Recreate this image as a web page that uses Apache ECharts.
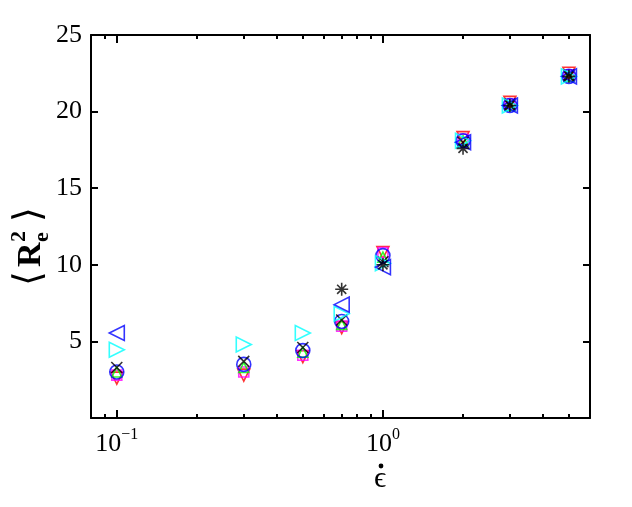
<!DOCTYPE html>
<html>
<head>
<meta charset="utf-8">
<script src="https://cdn.jsdelivr.net/npm/echarts@6/dist/echarts.min.js"></script>
<style>
html, body { margin: 0; padding: 0; background: #fff; }
#chart { width: 632px; height: 507px; }
</style>
</head>
<body>
<div id="chart"></div>
<script>
// strain rates
var xAll = [0.1, 0.3, 0.5, 0.7, 1, 2, 3, 5];
var xLeft = [0.1, 0.7, 1, 2, 3, 5];
var xStar = [0.7, 1, 2, 3, 5];

// <Re^2> per marker set
var downY = [2.6, 2.8, 4.0, 5.9, 10.8, 18.3, 20.6, 22.5];
var squareY = [2.8, 3.0, 4.1, 6.0, 10.8, 18.2, 20.5, 22.4];
var greenY = [3.0, 3.3, 4.3, 6.1, 10.5, 18.1, 20.4, 22.3];
var circleY = [3.0, 3.5, 4.4, 6.3, 10.6, 18.1, 20.4, 22.3];
var crossY = [3.3, 3.7, 4.6, 6.4, 10.2, 18.0, 20.5, 22.4];
var rightY = [4.45, 4.8, 5.55, 6.8, 10.1, 18.1, 20.4, 22.3];
var leftY = [5.55, 7.4, 9.85, 18.0, 20.4, 22.3];
var starY = [8.4, 10.0, 17.6, 20.4, 22.3];

var majorTicks = [0.1, 1];
var minorTicks = [0.09, 0.2, 0.3, 0.4, 0.5, 0.6, 0.7, 0.8, 0.9, 2, 3, 4, 5];

function pairs(xs, ys) {
  return xs.map(function (x, i) { return [x, ys[i]]; });
}

var serif = '"Liberation Serif", "DejaVu Serif", serif';
var chart = echarts.init(document.getElementById('chart'));

function xAx(pos, ticks, len, showLine, showLabel) {
  return {
    type: 'log', position: pos, min: 0.08, max: 6, logBase: 10,
    axisLine: { show: showLine, lineStyle: { color: '#000', width: 2 } },
    axisTick: { inside: true, length: len, customValues: ticks, lineStyle: { color: '#000', width: 2 } },
    axisLabel: {
      show: showLabel, customValues: majorTicks, margin: 9,
      formatter: function (v) { return v < 0.5 ? '{b|10}{s|−1}' : '{b|10}{s|0}'; },
      rich: {
        b: { fontFamily: serif, fontSize: 26, color: '#000', verticalAlign: 'bottom' },
        s: { fontFamily: serif, fontSize: 16, color: '#000', verticalAlign: 'top', padding: [0, 0, 14, 0] }
      }
    },
    splitLine: { show: false }
  };
}

function yAx(pos, showLabel) {
  return {
    type: 'value', position: pos, min: 0, max: 25, interval: 5,
    axisLine: { show: true, lineStyle: { color: '#000', width: 2 } },
    axisTick: { inside: true, length: 7, lineStyle: { color: '#000', width: 2 } },
    axisLabel: {
      show: showLabel, fontFamily: serif, fontSize: 26, color: '#000', margin: 9,
      formatter: function (v) { return v === 0 ? '' : String(v); }
    },
    splitLine: { show: false }
  };
}

function ser(name, data, symbol, color, size, rotate) {
  return {
    name: name, type: 'scatter', data: data,
    symbol: symbol, symbolSize: size, symbolRotate: rotate || 0,
    itemStyle: { color: 'transparent', borderColor: color, borderWidth: 1.6 }
  };
}

var xPath = 'path://M0,0L10,10M10,0L0,10';
var starPath = 'path://M5,0L5,10M0,5L10,5M1.5,1.5L8.5,8.5M8.5,1.5L1.5,8.5';

chart.setOption({
  animation: false,
  backgroundColor: '#fff',
  grid: { left: 91, right: 42, top: 35, bottom: 89 },
  xAxis: [
    xAx('bottom', majorTicks, 8, true, true),
    xAx('bottom', minorTicks, 4, false, false),
    xAx('top', majorTicks, 8, true, false),
    xAx('top', minorTicks, 4, false, false)
  ],
  yAxis: [yAx('left', true), yAx('right', false)],
  series: [
    ser('down', pairs(xAll, downY), 'triangle', '#ff0000', 12, 180),
    ser('square', pairs(xAll, squareY), 'rect', '#ff00ff', 10),
    ser('up', pairs(xAll, greenY), 'triangle', '#00ff00', 10),
    ser('circle', pairs(xAll, circleY), 'circle', '#0000ff', 14),
    ser('cross', pairs(xAll, crossY), xPath, '#000000', 11),
    ser('right', pairs(xAll, rightY), 'triangle', '#00ffff', 15, -90),
    ser('left', pairs(xLeft, leftY), 'triangle', '#0000ff', 15, 90),
    ser('star', pairs(xStar, starY), starPath, '#000000', 13)
  ],
  graphic: [
    {
      type: 'group', x: 32, y: 230, rotation: Math.PI / 2,
      children: [
        { type: 'text', x: -56, y: -21, style: { text: '⟨', font: '38px ' + serif, fill: '#000' } },
        { type: 'text', x: -37, y: -18, style: { text: 'R', font: 'bold 34px ' + serif, fill: '#000' } },
        { type: 'text', x: -12, y: -24, style: { text: '2', font: 'bold 22px ' + serif, fill: '#000' } },
        { type: 'text', x: -12, y: -1, style: { text: 'e', font: 'bold 22px ' + serif, fill: '#000' } },
        { type: 'text', x: 8, y: -21, style: { text: '⟩', font: '38px ' + serif, fill: '#000' } }
      ]
    },
    { type: 'text', x: 374, y: 464, style: { text: 'ϵ', font: '30px ' + serif, fill: '#000' } },
    { type: 'circle', shape: { cx: 381, cy: 466, r: 2.4 }, style: { fill: '#000' } }
  ]
});
</script>
</body>
</html>
